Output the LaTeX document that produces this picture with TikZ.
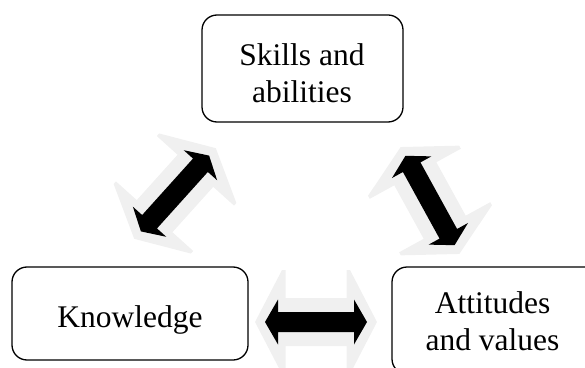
\documentclass[tikz,border=0pt]{standalone}
\usepackage{fontspec}
\setmainfont{Liberation Serif}
\definecolor{glowgray}{HTML}{F0F0F0}
\tikzset{
  x=1pt, y=1pt,
  topicbox/.style={draw=black, line width=1.3pt, rounded corners=15pt,
    fill=white, inner sep=0pt},
  topictext/.style={font=\fontsize{31.5}{37}\selectfont, align=center,
    inner sep=0pt},
  linkarrow/.pic={
    % pale outer halo
    \fill[glowgray] (-61,0) -- (-34,52) -- (-30.5,52) -- (-30.5,24)
      -- (30.5,24) -- (30.5,52) -- (34,52) -- (61,0) -- (34,-52)
      -- (30.5,-52) -- (30.5,-24) -- (-30.5,-24) -- (-30.5,-52)
      -- (-34,-52) -- cycle;
    % solid double-headed arrow
    \fill[black] (-51,0) -- (-38,22.5) -- (-38,10) -- (38,10)
      -- (38,22.5) -- (51,0) -- (38,-22.5) -- (38,-10) -- (-38,-10)
      -- (-38,-22.5) -- cycle;
  }
}
\begin{document}
\begin{tikzpicture}
\useasboundingbox (0,0) rectangle (585,367);
\clip (0,0) rectangle (585,367);

% arrows linking the three topics
\coordinate (leftlink) at (175,173.5);
\coordinate (rightlink) at (430,166.5);
\coordinate (bottomlink) at (316,45);
\pic[rotate=48] at (leftlink) {linkarrow};
\pic[rotate=118.8] at (rightlink) {linkarrow};
\pic at (bottomlink) {linkarrow};

% topic boxes
\node[topicbox, minimum width=201pt, minimum height=107pt] (skills) at (302.5,298.5) {};
\node[topicbox, minimum width=236pt, minimum height=93pt] (know) at (130,53.5) {};
\node[topicbox, minimum width=218pt, minimum height=107pt] (att) at (501,46.5) {};

\node[topictext] (skillstext) at (302,294.25) {Skills and\\abilities};
\node[topictext] (knowtext) at (130,47.3) {Knowledge};
\node[topictext] (atttext) at (492.5,46.25) {Attitudes\\and values};
\end{tikzpicture}
\end{document}
